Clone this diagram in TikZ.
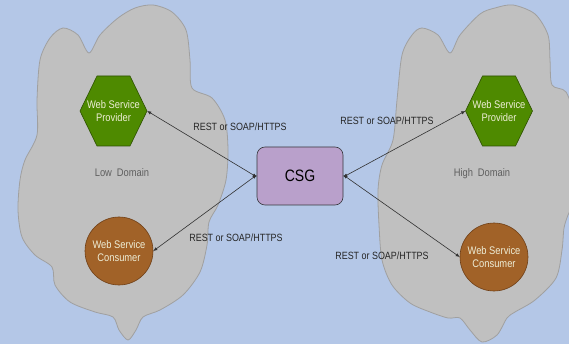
\documentclass[tikz,border=0pt]{standalone}
\usepackage{fontspec}
\setmainfont{Liberation Sans}[FakeStretch=0.85]
\usetikzlibrary{arrows.meta}

\definecolor{skyblue}{RGB}{180,199,231}
\definecolor{cloudgray}{RGB}{192,192,192}
\definecolor{cloudedge}{RGB}{160,160,160}
\definecolor{provgreen}{RGB}{78,138,0}
\definecolor{provedge}{RGB}{45,80,0}
\definecolor{consbrown}{RGB}{161,98,40}
\definecolor{consedge}{RGB}{110,62,22}
\definecolor{csgpurple}{RGB}{185,160,203}
\definecolor{csgedge}{RGB}{55,55,60}
\definecolor{nodetext}{RGB}{238,238,215}
\definecolor{domaintext}{RGB}{95,95,95}
\definecolor{linkgray}{RGB}{50,50,50}

\begin{document}
\begin{tikzpicture}[x=1pt, y=-1pt, font=\fontsize{11}{13}\selectfont,
  cloudfill/.style={fill=cloudgray, draw=cloudedge, line width=0.8pt},
  provfill/.style={fill=provgreen, draw=provedge, line width=0.6pt},
  prov/.style={rectangle, minimum width=67pt, minimum height=70pt, inner sep=0pt, align=center, text=nodetext},
  cons/.style={circle, fill=consbrown, draw=consedge, line width=0.6pt, minimum size=68pt, inner sep=0pt, align=center, text=nodetext},
  gate/.style={rectangle, rounded corners=8pt, fill=csgpurple, draw=csgedge, line width=0.6pt, minimum width=86pt, minimum height=58pt, font=\fontsize{16.5}{18}\selectfont},
  zonelabel/.style={text=domaintext},
  proto/.style={text=black!85, font=\fontsize{10.5}{12}\selectfont},
  link/.style={{Latex[length=4pt,width=3.5pt]}-{Latex[length=4pt,width=3.5pt]}, draw=linkgray, line width=0.6pt}]

\fill[skyblue] (0,0) rectangle (569,344);
\clip (0,0) rectangle (569,344);

% low domain cloud
\draw[cloudfill] plot[smooth cycle, tension=0.5] coordinates {
  (153,5) (172,12) (186,30) (190,60) (192,88) (212,98) (225,120) (228,150)
  (226,180) (218,205) (209,222) (207,245) (200,272) (183,295) (160,310) (143,317)
  (136,330) (128,340) (119,330) (113,317) (95,312) (70,302) (55,285) (52,267)
  (35,255) (22,237) (18,210) (20,180) (25,160) (37,135) (37,100) (40,60)
  (50,38) (63,28) (78,35) (89,53) (100,35) (118,18) (135,8)};

% high domain cloud
\draw[cloudfill] plot[smooth cycle, tension=0.5] coordinates {
  (513,5) (535,14) (548,35) (550,60) (552,85) (566,92) (575,120) (576,160)
  (574,200) (568,215) (564,228) (562,250) (556,278) (535,300) (515,312) (507,318)
  (497,335) (482,342) (470,330) (460,318) (448,318) (430,312) (410,303) (392,285)
  (382,260) (379,225) (378,190) (382,165) (393,140) (397,100) (402,55) (412,35)
  (422,28) (438,35) (450,53) (460,35) (480,14) (495,8)};

% providers
\coordinate (lpc) at (113.5,111);
\coordinate (rpc) at (499,111);
\draw[provfill] (lpc) +(-33.5,0) -- +(-16.5,-35) -- +(16.5,-35) -- +(33.5,0) -- +(16.5,35) -- +(-16.5,35) -- cycle;
\draw[provfill] (rpc) +(-33.5,0) -- +(-16.5,-35) -- +(16.5,-35) -- +(33.5,0) -- +(16.5,35) -- +(-16.5,35) -- cycle;
\node[prov] (lprov) at (lpc) {Web Service\\Provider};
\node[prov] (rprov) at (rpc) {Web Service\\Provider};

% consumers
\node[cons] (lcons) at (119,251) {Web Service\\Consumer};
\node[cons] (rcons) at (494,257) {Web Service\\Consumer};

% gateway
\node[gate] (csg) at (300,176) {CSG};

\node[zonelabel] (low) at (122,173) {Low\hspace{0.45em}Domain};
\node[zonelabel] (high) at (482,174) {High\hspace{0.45em}Domain};

\draw[link] (lprov.east) -- ([yshift=-1pt]csg.west);
\draw[link] (lcons.east) -- ([yshift=1pt]csg.west);
\draw[link] ([yshift=-1pt]csg.east) -- (rprov.west);
\draw[link] ([yshift=1pt]csg.east) -- (rcons.west);

\node[proto] (tl) at (240,127) {REST or SOAP/HTTPS};
\node[proto] (bl) at (236,238) {REST or SOAP/HTTPS};
\node[proto] (tr) at (387,121) {REST or SOAP/HTTPS};
\node[proto] (br) at (382,256) {REST or SOAP/HTTPS};

\end{tikzpicture}
\end{document}
